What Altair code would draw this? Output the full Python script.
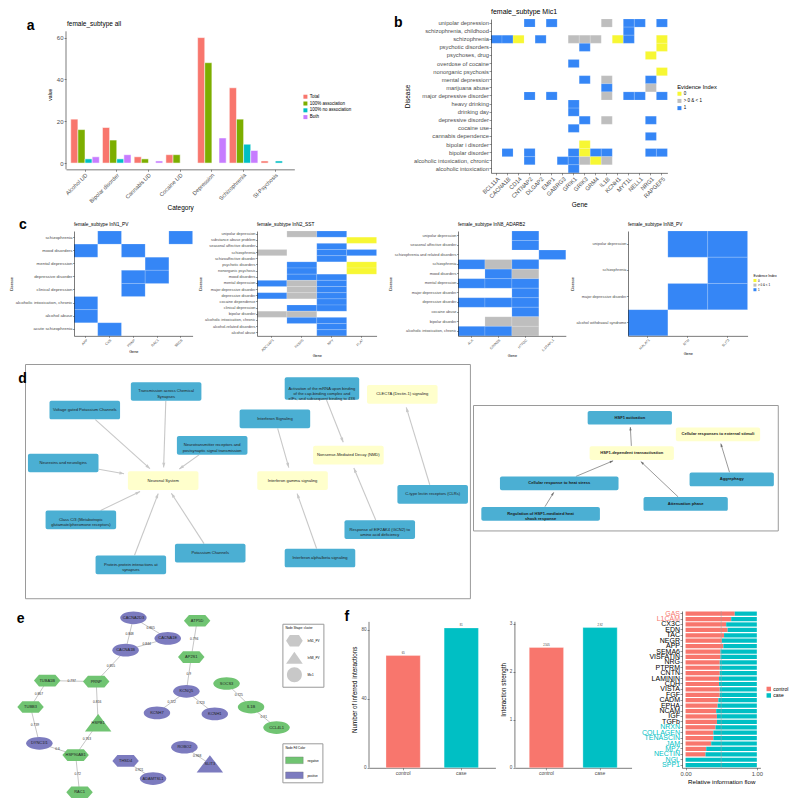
import math
import altair as alt
import pandas as pd

S = 0.98
FONT = "Liberation Sans"
G30 = "#4D4D4D"
RED, GREEN, CYAN, PURPLE = "#F8766D", "#7CAE00", "#00BFC4", "#C77CFF"
EV_YEL, EV_GREY, EV_BLUE = "#F7F733", "#BEBEBE", "#3586F6"
D_BLUE, D_YEL = "#4BAFD3", "#FFFFCC"
E_GREEN, E_PURPLE = "#70C472", "#7C7BBF"

# ---------------- panel a ----------------
a_categories = ["Alcohol UD", "Bipolar disorder", "Cannabis UD", "Cocaine UD",
                "Depression", "Schizophrenia", "SI-Psychosis"]
a_series = ["Total", "100% association", "100% no association", "Both"]
a_total = [21, 17, 3, 4, 60, 36, 1]
a_assoc = [16, 11, 2, 4, 48, 21, 0]
a_noassoc = [2, 2, 0, 0, 0, 9, 1]
a_both = [3, 4, 1, 0, 12, 6, 0]

# ---------------- panel b / c heatmaps ----------------
EV_LEVELS = ["0", "> 0 & < 1", "1"]
EV_CODE = {"Y": "0", "G": "> 0 & < 1", "B": "1"}

b_genes = ["BCL11A", "CACNA1B", "CD14", "CNTNAP2", "DLGAP2", "EMP1", "GABRG3", "GRIK1",
           "GRIK3", "GRM4", "IL1B", "KCNH1", "MYT1L", "NELL1", "NRG1", "RAPGEF5"]
b_diseases = ["unipolar depression", "schizophrenia, childhood", "schizophrenia",
              "psychotic disorders", "psychoses, drug", "overdose of cocaine",
              "nonorganic psychosis", "mental depression", "marijuana abuse",
              "major depressive disorder", "heavy drinking", "drinking day",
              "depressive disorder", "cocaine use", "cannabis dependence",
              "bipolar i disorder", "bipolar disorder", "alcoholic intoxication, chronic",
              "alcoholic intoxication"]
b_matrix = [
    ". . . B . B . . . . G . B B . B",
    ". . . . . . . . . . . . B . . .",
    "B B Y . B . . G G G . Y B . . Y",
    ". . . . . . . . B . . . . . . Y",
    ". . . . . . . . . . . . . . Y .",
    ". . . . . . . B . . . . . . . .",
    ". . . . . . . . . . . . . . . Y",
    ". . . . . . . . B . G . . . B .",
    ". . . . . . . . . . B . . . G .",
    ". . . B . B . . . . G . B B . B",
    ". . . . . . . B . . . . . . . .",
    ". . . . . . . B . . . . . . . .",
    ". . . . . . . . B . G . . . B .",
    ". . . . . . . B . . . . . . . .",
    ". . . . . . . . . . . . . . B .",
    ". . . . . . . . Y . . . . . . .",
    ". B . B . . . B Y B B . . . B B",
    ". . . B . . B B G Y G . . . . .",
    ". . . . . . . B . . . . . . . .",
]

c1_genes = ["APP", "CKB", "PRNP", "RAC1", "SNCB"]
c1_diseases = ["schizophrenia", "mood disorders", "mental depression", "depressive disorder",
               "clinical depression", "alcoholic intoxication, chronic", "alcohol abuse",
               "acute schizophrenia"]
c1_matrix = [". B . . B", "B . B . .", ". . . B .", ". . B B .", ". . B . .",
             "B . . . .", "B . . . .", ". B . . ."]

c2_genes = ["ADCYAP1", "FKBP5", "NPY", "PLAT"]
c2_diseases = ["unipolar depression", "substance abuse problem", "seasonal affective disorder",
               "schizophrenia", "schizoaffective disorder", "psychotic disorders",
               "nonorganic psychosis", "mood disorders", "mental depression",
               "major depressive disorder", "depressive disorder", "cocaine dependence",
               "clinical depression", "bipolar disorder", "alcoholic intoxication, chronic",
               "alcohol-related disorders", "alcohol abuse"]
c2_matrix = [". G B .", ". . . Y", ". . B .", "G . B B", ". . B .", ". B . Y", ". B . Y",
             ". B B .", "B G B .", ". G B .", "B G B .", ". . B .", ". B B .", "G G . .",
             ". B B .", ". . B .", ". . B ."]

c3_genes = ["ALK", "GRIN2B", "HTR2C", "IL1RAPL1"]
c3_diseases = ["unipolar depression", "seasonal affective disorder",
               "schizophrenia and related disorders", "schizophrenia", "mood disorders",
               "mental depression", "major depressive disorder", "depressive disorder",
               "cocaine abuse", "bipolar disorder", "alcoholic intoxication, chronic"]
c3_matrix = [". . B .", ". . B .", ". . . B", "B G B .", ". B G .", "B B B .", ". . B .",
             "B B B .", ". . B .", ". G G .", "B B G ."]

c4_genes = ["MALAT1", "NTM", "SLIT3"]
c4_diseases = ["unipolar depression", "schizophrenia", "major depressive disorder",
               "alcohol withdrawal syndrome"]
c4_matrix = [". B B", ". . B", ". B B", "B . ."]

# ---------------- panel d networks ----------------
d1_labels = [
    "Transmission across Chemical\nSynapses",
    "Voltage gated Potassium Channels",
    "Neurexins and neuroligins",
    "Neurotransmitter receptors and\npostsynaptic signal transmission",
    "Neuronal System",
    "Class C/3 (Metabotropic\nglutamate/pheromone receptors)",
    "Protein-protein interactions at\nsynapses",
    "Potassium Channels",
    "Interferon Signaling",
    "Interferon gamma signaling",
    "Interferon alpha/beta signaling",
    "Activation of the mRNA upon binding\nof the cap-binding complex and\neIFs, and subsequent binding to 43S",
    "Nonsense-Mediated Decay (NMD)",
    "Response of EIF2AK4 (GCN2) to\namino acid deficiency",
    "CLEC7A (Dectin-1) signaling",
    "C-type lectin receptors (CLRs)",
]
d1_kind = ["pathway", "pathway", "pathway", "pathway", "hub", "pathway", "pathway", "pathway",
           "pathway", "hub", "pathway", "pathway", "hub", "pathway", "hub", "pathway"]
d1_x = [163, 80, 58, 210, 160, 76, 127, 208, 274, 292, 320, 322, 349, 381, 404, 435]
d1_y = [391, 410, 464, 446, 482, 522, 568, 556, 419, 482, 561, 388, 456, 532, 394, 496]
d1_edges = [(0, 4), (1, 4), (2, 4), (3, 4), (5, 4), (6, 4), (7, 4), (8, 9), (10, 9),
            (11, 12), (13, 12), (15, 14)]

d2_labels = ["HSF1 activation", "HSF1-dependent transactivation",
             "Cellular responses to external stimuli", "Cellular response to heat stress",
             "Regulation of HSF1-mediated heat\nshock response", "Attenuation phase", "Aggrephagy"]
d2_kind = ["pathway", "hub", "hub", "pathway", "pathway", "pathway", "pathway"]
d2_x = [634, 636, 724, 562, 543, 691, 738]
d2_y = [416, 452, 433, 483, 514, 504, 479]
d2_edges = [(1, 0), (3, 1), (5, 1), (4, 3), (6, 2)]

# ---------------- panel e network ----------------
e_names = ["CACNA2D3", "CACNA1E", "CACNA1B", "ATP5D", "AP2S1", "PRNP", "TUBA1B", "TUBB3",
           "HSPB1", "KCNQ5", "KCNH7", "KCNH1", "SOCS3", "IL1B", "CCL4L1", "DYNC1I1",
           "HSP90AB1", "RAC1", "THSD4", "ADAMTSL1", "ROBO2", "SLIT3"]
e_cluster = ["Mic1", "Mic1", "Mic1", "InN1_PV", "InN1_PV", "InN1_PV", "InN1_PV", "InN1_PV",
             "InN8_PV", "Mic1", "Mic1", "Mic1", "Mic1", "Mic1", "Mic1", "Mic1",
             "InN1_PV", "InN1_PV", "InN1_PV", "Mic1", "Mic1", "InN8_PV"]
e_sign = ["positive", "positive", "positive", "negative", "negative", "negative", "negative",
          "negative", "negative", "positive", "positive", "positive", "negative", "negative",
          "negative", "positive", "negative", "negative", "positive", "positive", "positive",
          "positive"]
e_x = [129, 164, 121, 194, 188, 91, 41, 24, 93, 183, 153, 212, 224, 249, 275, 33, 70, 74,
       121, 149, 181, 207]
e_y = [619, 640, 652, 622, 659, 684, 683, 710, 726, 694, 716, 717, 686, 710, 731, 747, 759,
       797, 765, 783, 751, 768]
e_edges = [("CACNA2D3", "CACNA1B", "0.848"), ("CACNA2D3", "CACNA1E", "0.865"),
           ("CACNA1B", "CACNA1E", "0.844"), ("CACNA1B", "PRNP", "0.855"),
           ("PRNP", "TUBA1B", "0.797"), ("TUBA1B", "TUBB3", "0.867"),
           ("PRNP", "HSPB1", "0.816"), ("TUBB3", "DYNC1I1", "0.739"),
           ("HSPB1", "HSP90AB1", "0.763"), ("DYNC1I1", "HSP90AB1", "0.6"),
           ("HSP90AB1", "RAC1", "0.72"), ("ATP5D", "AP2S1", "0.794"),
           ("AP2S1", "KCNQ5", "0.9"), ("KCNQ5", "KCNH7", "0.722"),
           ("KCNQ5", "KCNH1", "0.723"), ("SOCS3", "IL1B", "0.725"),
           ("IL1B", "CCL4L1", "0.91"), ("THSD4", "ADAMTSL1", "0.921"),
           ("ROBO2", "SLIT3", "0.968")]
e_cluster_levels = ["InN1_PV", "InN8_PV", "Mic1"]

# ---------------- panel f ----------------
f_groups = ["control", "case"]
f1_values = [65, 81]
f1_labels = ["65", "81"]
f2_values = [2.505, 2.92]
f2_labels = ["2.505", "2.92"]
f3_paths = ["GAS", "L1CAM", "CX3C", "EDN", "TAC", "NEGR", "APP", "SEMA6", "VISFATIN", "NRG",
            "PTPRM", "CNTN", "LAMININ", "CDH", "VISTA", "FGF", "CADM", "EPHA", "NCAM", "IGF",
            "TGFb", "NRXN", "COLLAGEN", "TENASCIN", "JAM", "MPZ", "NECTIN", "NGL", "SPP1"]
f3_control = [0.69, 0.64, 0.57, 0.59, 0.54, 0.51, 0.53, 0.49, 0.49, 0.48, 0.48, 0.48, 0.47,
              0.47, 0.48, 0.48, 0.46, 0.45, 0.43, 0.44, 0.44, 0.42, 0.39, 0.39, 0.36, 0.29,
              0.28, 0.0, 0.0]
f3_red_labels = ["GAS", "L1CAM"]
f3_cyan_labels = ["NRXN", "COLLAGEN", "TENASCIN", "JAM", "MPZ", "NECTIN", "NGL", "SPP1"]


# ================= helpers =================
def axis(title=None, lab=5.0, tit=6.0, angle=0, values=None, tick=2.0, lpad=1.0, tpad=2.0, **kw):
    d = dict(title=title, labelFontSize=lab, titleFontSize=tit, labelColor=G30,
             titleColor="black", titleFontWeight="normal", labelFont=FONT, titleFont=FONT,
             domainColor="#222222", domainWidth=0.6, tickColor="#333333", tickWidth=0.5,
             tickSize=tick, labelPadding=lpad, titlePadding=tpad, grid=False,
             labelAngle=angle, labelOverlap=False)
    if values is not None:
        d["values"] = values
    d.update(kw)
    return alt.Axis(**d)


def spacer(w, h=1.0):
    return alt.Chart(pd.DataFrame({"z": [0]})).mark_point(size=0, opacity=0).encode(
        x=alt.value(0), y=alt.value(0)).properties(width=w, height=h)


def ptext(text, dx, dy, size, weight="normal"):
    return alt.Chart(pd.DataFrame({"t": [text]})).mark_text(
        fontSize=size, fontWeight=weight, font=FONT, align="left", baseline="middle",
        color="black").encode(text="t:N", x=alt.value(dx), y=alt.value(dy))


def plabel(letter, dx, dy):
    return ptext(letter, dx, dy, 14, "bold")


def heat_df(genes, diseases, matrix):
    rows = []
    for d, line in zip(diseases, matrix):
        for g, ch in zip(genes, line.split()):
            if ch in EV_CODE:
                rows.append({"Disease": d, "Gene": g, "Evidence": EV_CODE[ch]})
    return pd.DataFrame(rows)


def heatmap(title, genes, diseases, matrix, W, H, lab_y, lab_x, tit_ax, tit_main, title_dy,
            legend, letter=None, tick=2.0, tpad=2.0):
    df = heat_df(genes, diseases, matrix)
    base = alt.Chart(df).mark_rect(stroke="white", strokeWidth=0.3, strokeOpacity=0.5).encode(
        x=alt.X("Gene:N", scale=alt.Scale(domain=genes, paddingInner=0, paddingOuter=0),
                axis=axis("Gene", lab=lab_x, tit=tit_ax, angle=315, tick=tick, lpad=0.5, tpad=tpad)),
        y=alt.Y("Disease:N", scale=alt.Scale(domain=diseases, paddingInner=0, paddingOuter=0),
                axis=axis("Disease", lab=lab_y, tit=tit_ax, tick=tick, lpad=0.5, tpad=tpad)),
        color=alt.Color("Evidence:N", scale=alt.Scale(domain=EV_LEVELS,
                                                      range=[EV_YEL, EV_GREY, EV_BLUE]),
                        legend=legend),
    )
    layers = [base, ptext(title, 0, title_dy, tit_main)]
    if letter:
        layers.append(plabel(*letter))
    return alt.layer(*layers).properties(width=W, height=H)


def rr_path(w, h, r):
    hh = h / w
    rr = 2.0 * r / w
    return (f"M{-1+rr:.4f},{-hh:.4f} L{1-rr:.4f},{-hh:.4f} A{rr:.4f},{rr:.4f} 0 0 1 1,{-hh+rr:.4f} "
            f"L1,{hh-rr:.4f} A{rr:.4f},{rr:.4f} 0 0 1 {1-rr:.4f},{hh:.4f} L{-1+rr:.4f},{hh:.4f} "
            f"A{rr:.4f},{rr:.4f} 0 0 1 -1,{hh-rr:.4f} L-1,{-hh+rr:.4f} "
            f"A{rr:.4f},{rr:.4f} 0 0 1 {-1+rr:.4f},{-hh:.4f} Z")


ARROW = "M0,0 L0.55,1.6 L-0.55,1.6 Z"


def box_dist(hw, hh, ux, uy):
    tx = hw / abs(ux) if abs(ux) > 1e-9 else 1e9
    ty = hh / abs(uy) if abs(uy) > 1e-9 else 1e9
    return min(tx, ty)


def net_edges(xs, ys, dims, edges, gap_s, gap_t):
    rows = []
    for s, t in edges:
        dx, dy = xs[t] - xs[s], ys[t] - ys[s]
        L = math.hypot(dx, dy)
        ux, uy = dx / L, dy / L
        ts = box_dist(dims[s][0] / 2, dims[s][1] / 2, ux, uy) + gap_s
        tt = box_dist(dims[t][0] / 2, dims[t][1] / 2, ux, uy) + gap_t
        rows.append(dict(x=xs[s] + ux * ts, y=ys[s] + uy * ts,
                         x2=xs[t] - ux * tt, y2=ys[t] - uy * tt,
                         ang=math.degrees(math.atan2(ux, -uy)) % 360))
    return pd.DataFrame(rows)


def network_d(labels, kinds, xs, ys, edges, dims, xdom, ydom, W, H, edge_color, edge_w,
              arrow_size, font_size, font_weight, text_color, gap_t, letter=None):
    XS = alt.Scale(domain=xdom, nice=False, zero=False)
    YS = alt.Scale(domain=ydom, nice=False, zero=False, reverse=True)
    X = lambda f: alt.X(f"{f}:Q", scale=XS, axis=None)
    Y = lambda f: alt.Y(f"{f}:Q", scale=YS, axis=None)
    de = net_edges(xs, ys, dims, edges, 0.3, gap_t)
    layers = [
        alt.Chart(de).mark_rule(color=edge_color, strokeWidth=edge_w).encode(
            x=X("x"), y=Y("y"), x2="x2:Q", y2="y2:Q"),
        alt.Chart(de).mark_point(shape=ARROW, filled=True, opacity=1, size=arrow_size,
                                 color=edge_color).encode(
            x=X("x2"), y=Y("y2"), angle=alt.Angle("ang:Q", scale=None)),
    ]
    dn = pd.DataFrame({"label": labels, "kind": kinds, "x": xs, "y": ys,
                       "w": [d[0] for d in dims], "h": [d[1] for d in dims]})
    for (w, h) in sorted(set(dims)):
        sub = dn[(dn.w == w) & (dn.h == h)]
        layers.append(
            alt.Chart(sub).mark_point(shape=rr_path(w, h, 2.0), size=(w * S) ** 2, filled=True,
                                      opacity=1, strokeWidth=0).encode(
                x=X("x"), y=Y("y"),
                color=alt.Color("kind:N", scale=alt.Scale(domain=["pathway", "hub"],
                                                          range=[D_BLUE, D_YEL]), legend=None)))
    layers.append(alt.Chart(dn).mark_text(fontSize=font_size, lineHeight=font_size * 1.3,
                                          lineBreak="\n", font=FONT, color=text_color,
                                          fontWeight=font_weight).encode(
        x=X("x"), y=Y("y"), text="label:N"))
    if letter:
        layers.append(plabel(*letter))
    return alt.layer(*layers).properties(
        width=W, height=H, view=alt.ViewBackground(stroke="#9A9A9A", strokeWidth=1))


def yline(lo, hi):
    return alt.Chart(pd.DataFrame({"z": [0]})).mark_rule(color="#222222", strokeWidth=0.6).encode(
        x=alt.value(0), y=alt.datum(hi), y2=alt.datum(lo))


# ================= panel a =================
rows = []
for i, c in enumerate(a_categories):
    for s, vals in zip(a_series, [a_total, a_assoc, a_noassoc, a_both]):
        if vals[i] > 0:
            rows.append(dict(Category=c, series=s, value=vals[i]))
dfa = pd.DataFrame(rows)
a_bars = alt.Chart(dfa).mark_bar(stroke="white", strokeWidth=0.5).encode(
    x=alt.X("Category:N", scale=alt.Scale(domain=a_categories, paddingInner=0.1, paddingOuter=0.15),
            axis=axis("Category", lab=5.6, tit=6.5, angle=315, lpad=1, tpad=1)),
    xOffset=alt.XOffset("series:N", scale=alt.Scale(domain=a_series)),
    y=alt.Y("value:Q", scale=alt.Scale(domain=[-3, 68.9], nice=False, zero=False),
            axis=axis("value", lab=6, tit=5, values=[0, 20, 40, 60], tpad=4, domain=False)),
    y2=alt.datum(0),
    color=alt.Color("series:N", scale=alt.Scale(domain=a_series, range=[RED, GREEN, CYAN, PURPLE]),
                    legend=alt.Legend(title=None, orient="none", legendX=(301 - 59) * S,
                                      legendY=(88 - 11) * S, labelFontSize=4.5, labelFont=FONT,
                                      symbolType="square", symbolSize=16, symbolStrokeWidth=0,
                                      rowPadding=0.8, labelOffset=2)),
)
a_chart = alt.layer(a_bars, yline(-3, 63), plabel("a", -40 * S, 7 * S),
                    ptext("female_subtype all", 1 * S, 5 * S, 6.5)).properties(
    width=233 * S, height=153.4 * S)

# ================= panel b =================
ev_legend_b = alt.Legend(title="Evidence Index", orient="none", legendX=(687 - 497) * S,
                         legendY=(77 - 11) * S, titleFontSize=5.8, titleFontWeight="normal",
                         titleFont=FONT, labelFont=FONT, labelFontSize=4.5, symbolType="square",
                         symbolSize=16, symbolStrokeWidth=0, rowPadding=1.2, labelOffset=2,
                         titlePadding=2)
b_chart = heatmap("female_subtype Mic1", b_genes, b_diseases, b_matrix, 180 * S, 157 * S,
                  5.8, 5.8, 6.5, 7, -7 * S, ev_legend_b, letter=("b", -99 * S, 4 * S), tpad=3)

# ================= panel c =================
ev_legend_c = alt.Legend(title="Evidence Index", orient="none", legendX=(763 - 635) * S,
                         legendY=(271 - 227) * S, titleFontSize=3.4, titleFontWeight="normal",
                         titleFont=FONT, labelFont=FONT, labelFontSize=3, symbolType="square",
                         symbolSize=9, symbolStrokeWidth=0, rowPadding=0.6, labelOffset=1.5,
                         titlePadding=1.5)
CH = 107 * S
CT = -6 * S
c1 = heatmap("female_subtype InN1_PV", c1_genes, c1_diseases, c1_matrix, 121 * S, CH,
             4.4, 3.5, 3.8, 4.8, CT, None, letter=("c", -56 * S, -6 * S), tick=1.5)
c2 = heatmap("female_subtype InN2_SST", c2_genes, c2_diseases, c2_matrix, 122 * S, CH,
             3.9, 3.5, 3.8, 4.8, CT, None, tick=1.5)
c3 = heatmap("female_subtype InN8_ADARB2", c3_genes, c3_diseases, c3_matrix, 110 * S, CH,
             3.9, 3.5, 3.8, 4.8, CT, None, tick=1.5)
c4 = heatmap("female_subtype InN8_PV", c4_genes, c4_diseases, c4_matrix, 122 * S, CH,
             3.9, 3.5, 3.8, 4.8, CT, ev_legend_c, tick=1.5)

# ================= panel d =================
d1_dims = [(76, 23) if "43S" in lab else (72, 19) for lab in d1_labels]
d1 = network_d(d1_labels, d1_kind, d1_x, d1_y, d1_edges, d1_dims, [19, 473], [363, 602],
               454 * S, 239 * S, "#C8C8C8", 1.1, 34, 4.1, "normal", "#222222", 4,
               letter=("d", -7 * S, 15 * S))
d2_dims = [(121, 14) if i in (3, 4) else (86, 14) for i in range(len(d2_labels))]
d2 = network_d(d2_labels, d2_kind, d2_x, d2_y, d2_edges, d2_dims, [474, 785], [403, 531],
               311 * S, 128 * S, "#6E6E6E", 0.7, 18, 4.1, "bold", "#1A1A1A", 2.5)

# ================= panel e =================
HEX = "M-1,0 L-0.62,-0.44 L0.62,-0.44 L1,0 L0.62,0.44 L-0.62,0.44 Z"
TRI = "M0,-0.66 L1,0.66 L-1,0.66 Z"
ELL = "M-1,0 A1,0.48 0 1,1 1,0 A1,0.48 0 1,1 -1,0 Z"
HEX_L = "M-1,0 L-0.55,-0.7 L0.55,-0.7 L1,0 L0.55,0.7 L-0.55,0.7 Z"
TRI_L = "M0,-0.72 L1,0.72 L-1,0.72 Z"
CIRC_L = "M-0.9,0 A0.9,0.9 0 1,1 0.9,0 A0.9,0.9 0 1,1 -0.9,0 Z"
RECT_L = "M-1,-0.38 L1,-0.38 L1,0.38 L-1,0.38 Z"

EXS = alt.Scale(domain=[1, 340], nice=False, zero=False)
EYS = alt.Scale(domain=[612, 804], nice=False, zero=False, reverse=True)
dfe = pd.DataFrame({"name": e_names, "cluster": e_cluster, "sign": e_sign, "x": e_x, "y": e_y})
pos = {n: (x, y) for n, x, y in zip(e_names, e_x, e_y)}
dfee = pd.DataFrame([dict(x=pos[a][0], y=pos[a][1], x2=pos[b][0], y2=pos[b][1],
                          mx=(pos[a][0] + pos[b][0]) / 2, my=(pos[a][1] + pos[b][1]) / 2, w=w)
                     for a, b, w in e_edges])
e_rules = alt.Chart(dfee).mark_rule(color="#8C8C8C", strokeWidth=0.5).encode(
    x=alt.X("x:Q", scale=EXS, axis=None), y=alt.Y("y:Q", scale=EYS, axis=None),
    x2="x2:Q", y2="y2:Q")
e_wlab = alt.Chart(dfee).mark_text(fontSize=3.3, font=FONT, color="#333333").encode(
    x=alt.X("mx:Q", scale=EXS, axis=None), y=alt.Y("my:Q", scale=EYS, axis=None), text="w:N")
e_nodes = alt.Chart(dfe).mark_point(filled=True, opacity=1, size=(27 * S) ** 2,
                                    strokeWidth=0).encode(
    x=alt.X("x:Q", scale=EXS, axis=None), y=alt.Y("y:Q", scale=EYS, axis=None),
    shape=alt.Shape("cluster:N", scale=alt.Scale(domain=e_cluster_levels, range=[HEX, TRI, ELL]),
                    legend=None),
    fill=alt.Fill("sign:N", scale=alt.Scale(domain=["negative", "positive"],
                                            range=[E_GREEN, E_PURPLE]),
                  legend=alt.Legend(title="Node Fill Color", orient="none",
                                    legendX=(281 - 1) * S, legendY=(747 - 612) * S,
                                    strokeColor="#9A9A9A", fillColor="white", padding=3,
                                    titleFontSize=3, titleFontWeight="normal", titleFont=FONT,
                                    labelFont=FONT, labelFontSize=3, symbolType=RECT_L,
                                    symbolSize=(18 * S) ** 2, symbolStrokeColor="#666666",
                                    symbolStrokeWidth=0.3, rowPadding=2, labelOffset=4,
                                    titlePadding=2)),
)
e_names_txt = alt.Chart(dfe).mark_text(fontSize=4.0, font=FONT, color="#222222").encode(
    x=alt.X("x:Q", scale=EXS, axis=None), y=alt.Y("y:Q", scale=EYS, axis=None), text="name:N")
e_shape_leg = alt.Chart(pd.DataFrame({"cluster": e_cluster_levels})).transform_filter(
    "false").mark_point(filled=True, opacity=1, color="#C8C8C8").encode(
    shape=alt.Shape("cluster:N", scale=alt.Scale(domain=e_cluster_levels,
                                                 range=[HEX_L, TRI_L, CIRC_L]),
                    legend=alt.Legend(title="Node Shape: cluster", orient="none",
                                      legendX=(281 - 1) * S, legendY=(625 - 612) * S,
                                      strokeColor="#9A9A9A", fillColor="white", padding=3,
                                      titleFontSize=3, titleFontWeight="normal", titleFont=FONT,
                                      labelFont=FONT, labelFontSize=3, symbolSize=(17 * S) ** 2,
                                      symbolFillColor="#C8C8C8", symbolStrokeColor="#666666",
                                      symbolStrokeWidth=0.4, rowPadding=1, labelOffset=4,
                                      titlePadding=2)))
e_chart = alt.layer(e_rules, e_nodes, e_wlab, e_names_txt, e_shape_leg,
                    plabel("e", 9 * S, 8 * S)).resolve_scale(shape="independent").properties(
    width=339 * S, height=192 * S)


# ================= panel f =================
def fbar(values, labels, ytitle, ydom, yline_top, yvals, W, H, letter=None):
    df = pd.DataFrame({"group": f_groups, "value": values, "lab": labels})
    x = alt.X("group:N", scale=alt.Scale(domain=f_groups, paddingInner=0.5, paddingOuter=0.337),
              axis=axis(None, lab=5, tick=2, lpad=1))
    y = alt.Y("value:Q", scale=alt.Scale(domain=ydom, nice=False, zero=False),
              axis=axis(ytitle, lab=4.6, tit=6.3, values=yvals, tpad=3, domain=False))
    bars = alt.Chart(df).mark_bar(size=35 * S, stroke="white", strokeWidth=0.3).encode(
        x=x, y=y, y2=alt.datum(0),
        color=alt.Color("group:N", scale=alt.Scale(domain=f_groups, range=[RED, CYAN]),
                        legend=None))
    txt = alt.Chart(df).mark_text(fontSize=2.6, font=FONT, baseline="bottom", dy=-0.6,
                                  color="#333333").encode(x=x, y=y, text="lab:N")
    layers = [bars, txt, yline(0, yline_top)]
    if letter:
        layers.append(plabel(*letter))
    return alt.layer(*layers).properties(width=W, height=H)


f1 = fbar(f1_values, f1_labels, "Number of inferred interactions", [0, 90.8], 84.5,
          [0, 20, 40, 60, 80], 129 * S, 160 * S, letter=("f", -25 * S, 6 * S))
f2 = fbar(f2_values, f2_labels, "Interaction strength", [0, 3.265], 3.04, [0, 1, 2, 3],
          119 * S, 160 * S)

rows = []
for p, c in zip(f3_paths, f3_control):
    if c > 0:
        rows.append(dict(pathway=p, group="control", x0=0.0, x1=c))
    rows.append(dict(pathway=p, group="case", x0=c, x1=1.0))
df3 = pd.DataFrame(rows)
F3X = alt.Scale(domain=[-0.05, 1.05], nice=False, zero=False)
red_list = ",".join(f"'{p}'" for p in f3_red_labels)
cyan_list = ",".join(f"'{p}'" for p in f3_cyan_labels)
lab_color = {"condition": [{"test": f"indexof([{red_list}], datum.value) >= 0", "value": RED},
                           {"test": f"indexof([{cyan_list}], datum.value) >= 0", "value": CYAN}],
             "value": "black"}
f3_bars = alt.Chart(df3).mark_bar().encode(
    y=alt.Y("pathway:N", scale=alt.Scale(domain=f3_paths, paddingInner=0.22, paddingOuter=0.1),
            axis=axis(None, lab=7, tick=2, lpad=0.5, labelColor=lab_color)),
    x=alt.X("x0:Q", scale=F3X, axis=axis("Relative information flow", lab=5.8, tit=6.2,
                                         values=[0, 0.25, 0.5, 0.75, 1], format=".2f",
                                         tpad=2)),
    x2="x1:Q",
    color=alt.Color("group:N", scale=alt.Scale(domain=f_groups, range=[RED, CYAN]),
                    legend=alt.Legend(title=None, orient="none", legendX=(771 - 685) * S,
                                      legendY=(689 - 612) * S, labelFontSize=5, labelFont=FONT,
                                      symbolType="square", symbolSize=20, symbolStrokeWidth=0,
                                      rowPadding=0.5, labelOffset=2)),
)
f3_rule = alt.Chart(pd.DataFrame({"v": [0.5]})).mark_rule(color="#A0A0A0", strokeWidth=0.5).encode(
    x=alt.X("v:Q", scale=F3X))
f3 = alt.layer(f3_bars, f3_rule).properties(width=80 * S, height=160 * S)

# ================= layout =================
IND = dict(color="independent")
row1 = alt.hconcat(spacer(17.6), a_chart, spacer(40), b_chart, spacing=0).resolve_scale(**IND)
row2 = alt.hconcat(spacer(1), c1, spacer(4.1), c2, spacer(10.9), c3, spacer(4), c4,
                   spacing=0).resolve_scale(**IND)
row3 = alt.hconcat(spacer(8.5), d1, spacer(0.5),
                   alt.vconcat(spacer(1, 40 * S), d2, spacing=0), spacing=0).resolve_scale(**IND)
row4 = alt.hconcat(e_chart, spacer(3 * S),
                   alt.hconcat(f1, f2, spacing=4 * S).resolve_scale(**IND),
                   spacer(9 * S), f3, spacing=0).resolve_scale(
    color="independent", fill="independent", shape="independent")

chart = alt.vconcat(row1, spacer(1, 6), row2, spacer(1, 4.3), row3, spacer(1, 9.9), row4,
                    spacing=0).resolve_scale(
    color="independent", fill="independent", shape="independent").properties(
    padding=0).configure(font=FONT).configure_view(stroke=None).configure_title(font=FONT)

chart.save("out.html", embed_options={"renderer": "svg", "actions": False})
